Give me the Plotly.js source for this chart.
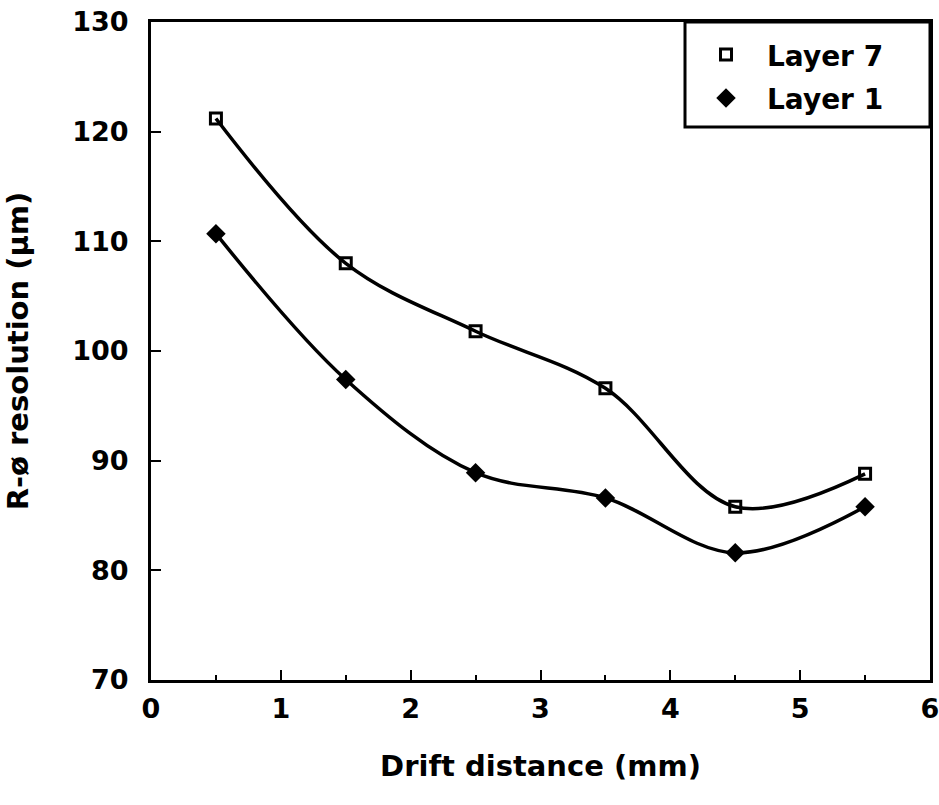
<!DOCTYPE html>
<html>
<head>
<meta charset="utf-8">
<script src="https://cdn.plot.ly/plotly-3.0.1.min.js"></script>
<style>html,body{margin:0;padding:0;background:#fff;}#chart{width:939px;height:805px;}</style>
</head>
<body>
<div id="chart"></div>
<script>
var drift = [0.5, 1.5, 2.5, 3.5, 4.5, 5.5];
var layer7 = [121.2, 108.0, 101.8, 96.6, 85.8, 88.8];
var layer1 = [110.7, 97.4, 88.9, 86.6, 81.6, 85.8];
var seriesNames = ['Layer 7', 'Layer 1'];
var xTicks = [0, 1, 2, 3, 4, 5, 6];
var yTicks = [70, 80, 90, 100, 110, 120, 130];

var FONT = 'DejaVu Sans, Verdana, sans-serif';

var lineStyle = {shape: 'spline', smoothing: 1, color: '#000', width: 3.5};

var traces = [
  {x: drift, y: layer7, mode: 'lines', type: 'scatter', showlegend: false, line: lineStyle, hoverinfo: 'skip'},
  {x: drift, y: layer1, mode: 'lines', type: 'scatter', showlegend: false, line: lineStyle, hoverinfo: 'skip'},
  {
    x: drift, y: layer7, name: seriesNames[0], legendgroup: 'a',
    mode: 'markers', type: 'scatter',
    marker: {symbol: 'square-open', size: 11, color: '#000', line: {width: 3, color: '#000'}}
  },
  {
    x: drift, y: layer1, name: seriesNames[1], legendgroup: 'b',
    mode: 'markers', type: 'scatter',
    marker: {symbol: 'diamond', size: 15, color: '#000'}
  }
];

var layout = {
  width: 939, height: 805,
  margin: {l: 151, r: 9, t: 22, b: 125},
  paper_bgcolor: '#fff', plot_bgcolor: '#fff',
  font: {family: FONT, color: '#000', size: 27},
  showlegend: true,
  legend: {
    x: 0.6855, y: 0.988, xanchor: 'left', yanchor: 'top',
    bgcolor: 'rgba(0,0,0,0)', borderwidth: 0,
    font: {family: FONT, size: 28, color: '#000', weight: 'bold'},
    traceorder: 'grouped', tracegroupgap: 4, itemwidth: 72,
    itemclick: false
  },
  shapes: [{
    type: 'rect', xref: 'paper', yref: 'paper',
    x0: 0.6855, x1: 1, y0: 0.8404, y1: 1,
    line: {color: '#000', width: 3}, fillcolor: 'rgba(0,0,0,0)', layer: 'above'
  }],
  xaxis: {
    range: [0, 6], tickvals: xTicks, ticktext: xTicks.map(String),
    showgrid: false, zeroline: false,
    showline: true, linecolor: '#000', linewidth: 3, mirror: true,
    ticks: 'inside', ticklen: 10, tickwidth: 2, tickcolor: '#000',
    minor: {dtick: 0.5, ticks: 'inside', ticklen: 5, tickwidth: 2, tickcolor: '#000', showgrid: false},
    ticklabelstandoff: 3, ticklabeloverflow: 'allow',
    tickfont: {family: FONT, size: 27, color: '#000', weight: 'bold'},
    title: {text: 'Drift distance (mm)', font: {family: FONT, size: 29, color: '#000', weight: 'bold'}, standoff: 33}
  },
  yaxis: {
    range: [70, 130], tickvals: yTicks, ticktext: yTicks.map(String),
    showgrid: false, zeroline: false,
    showline: true, linecolor: '#000', linewidth: 3, mirror: true,
    ticks: 'inside', ticklen: 10, tickwidth: 2, tickcolor: '#000',
    ticklabelstandoff: 14, ticklabeloverflow: 'allow',
    tickfont: {family: FONT, size: 27, color: '#000', weight: 'bold'},
    title: {text: 'R-ø resolution (µm)', font: {family: FONT, size: 29, color: '#000', weight: 'bold'}, standoff: 36}
  }
};

Plotly.newPlot('chart', traces, layout, {staticPlot: true, displayModeBar: false});
</script>
</body>
</html>
